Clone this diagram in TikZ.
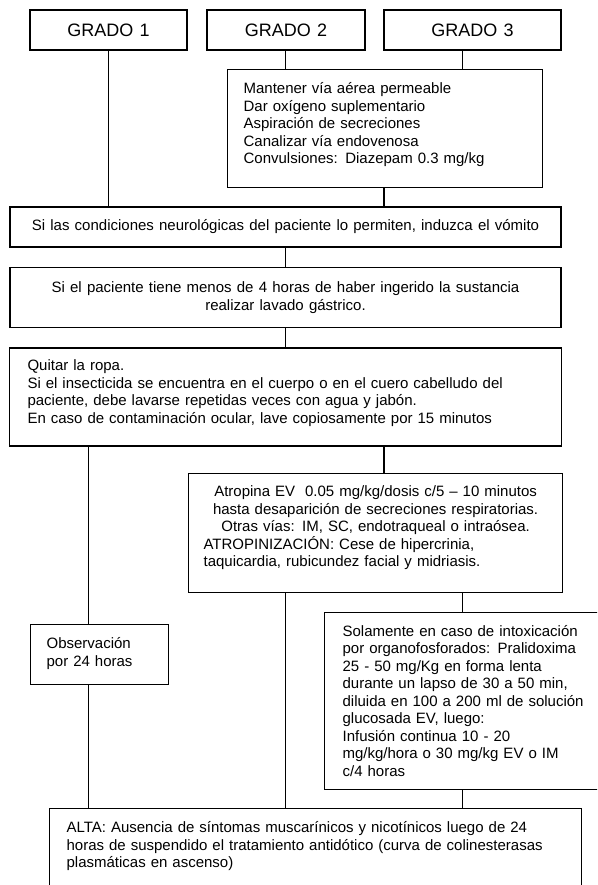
\documentclass[tikz,border=0pt]{standalone}
\usepackage{fontspec}
\setmainfont{Liberation Sans}[WordSpace = 1.25]
\usetikzlibrary{positioning}
\tikzset{
    grade/.style = {rectangle, draw = black, line width = 1.2pt, minimum height = 40pt, inner sep = 0pt, font = \fontsize{18}{21}\selectfont},
    banner/.style = {rectangle, draw = black, line width = 1.2pt, align = center, inner sep = 0pt, minimum width = 551pt, font = \fontsize{15}{17.5}\selectfont},
    block/.style = {rectangle, draw = black, line width = 1.2pt, align = left, anchor = north west, inner ysep = 0pt, font = \fontsize{15}{17.5}\selectfont},
    link/.style = {line width = 1.2pt}
}

\begin{document}
\begin{tikzpicture}[x = 1pt, y = -1pt]
        \useasboundingbox (0, 0) rectangle (597, 885);
        \clip (0, 0) rectangle (597, 885);
        \node [grade, minimum width = 157pt] (g1) at (108.5, 30) {GRADO 1};
        \node [grade, minimum width = 158pt] (g2) at (286, 30) {GRADO 2};
        \node [grade, minimum width = 177pt] (g3) at (472.5, 30) {GRADO 3};
        \node [block, text width = 283pt, inner xsep = 16pt, text height = 24pt, text depth = 94pt] (care) at (227, 69)
            {Mantener vía aérea permeable\\ Dar oxígeno suplementario\\ Aspiración de secreciones\\ Canalizar vía endovenosa\\ Convulsiones: Diazepam 0.3 mg/kg};
        \node [banner, minimum height = 40pt] (vomit) at (285.5, 227)
            {Si las condiciones neurológicas del paciente lo permiten, induzca el vómito};
        \node [banner, minimum height = 60pt, below = 19.5pt of vomit] (lavage)
            {Si el paciente tiene menos de 4 horas de haber ingerido la sustancia\\ realizar lavado gástrico.};
        \node [block, text width = 516pt, inner xsep = 18pt, text height = 23pt, text depth = 75pt, below = 19pt of lavage] (decon)
            {Quitar la ropa.\\ Si el insecticida se encuentra en el cuerpo o en el cuero cabelludo del\\ paciente, debe lavarse repetidas veces con agua y jabón.\\ En caso de contaminación ocular, lave copiosamente por 15 minutos};
        \node [block, text width = 344pt, inner xsep = 15pt, text height = 23pt, text depth = 96pt] (atro) at (188, 473)
            {{\centering Atropina EV\ \ 0.05 mg/kg/dosis c/5 – 10 minutos\\ hasta desaparición de secreciones respiratorias.\\ Otras vías: IM, SC, endotraqueal o intraósea.\par}
             ATROPINIZACIÓN: Cese de hipercrinia,\\ taquicardia, rubicundez facial y midriasis.};
        \node [block, text width = 106pt, inner xsep = 16pt, text height = 24pt, text depth = 36pt] (obs) at (30, 624)
            {Observación\\ por 24 horas};
        \node [block, text width = 254pt, inner xsep = 18pt, text height = 23.5pt, text depth = 153.5pt] (prali) at (324, 612)
            {Solamente en caso de intoxicación\\ por organofosforados: Pralidoxima\\ 25 - 50 mg/Kg en forma lenta\\ durante un lapso de 30 a 50 min,\\ diluida en 100 a 200 ml de solución\\ glucosada EV, luego:\\ Infusión continua 10 - 20\\ mg/kg/hora o 30 mg/kg EV o IM\\ c/4 horas};
        \node [block, text width = 498pt, inner xsep = 17pt, text height = 24pt, text depth = 90pt] (alta) at (49, 808)
            {ALTA: Ausencia de síntomas muscarínicos y nicotínicos luego de 24\\ horas de suspendido el tratamiento antidótico (curva de colinesterasas\\ plasmáticas en ascenso)};
        \coordinate (xa) at (88.5, 0);
        \coordinate (xc) at (285.5, 0);
        \coordinate (xd) at (384, 0);
        \coordinate (xe) at (462.5, 0);
        \draw [link] (g1.south) -- (g1.south |- vomit.north);
        \draw [link] (g2.south -| xc) -- (care.north -| xc);
        \draw [link] (g3.south -| xe) -- (care.north -| xe);
        \draw [link] (care.south -| xd) -- (vomit.north -| xd);
        \draw [link] (vomit.south -| xc) -- (lavage.north -| xc);
        \draw [link] (lavage.south -| xc) -- (decon.north -| xc);
        \draw [link] (decon.south -| xa) -- (obs.north -| xa);
        \draw [link] (decon.south -| xd) -- (atro.north -| xd);
        \draw [link] (atro.south -| xc) -- (alta.north -| xc);
        \draw [link] (atro.south -| xe) -- (prali.north -| xe);
        \draw [link] (obs.south -| xa) -- (alta.north -| xa);
        \draw [link] (prali.south -| xe) -- (alta.north -| xe);
\end{tikzpicture}
\end{document}
